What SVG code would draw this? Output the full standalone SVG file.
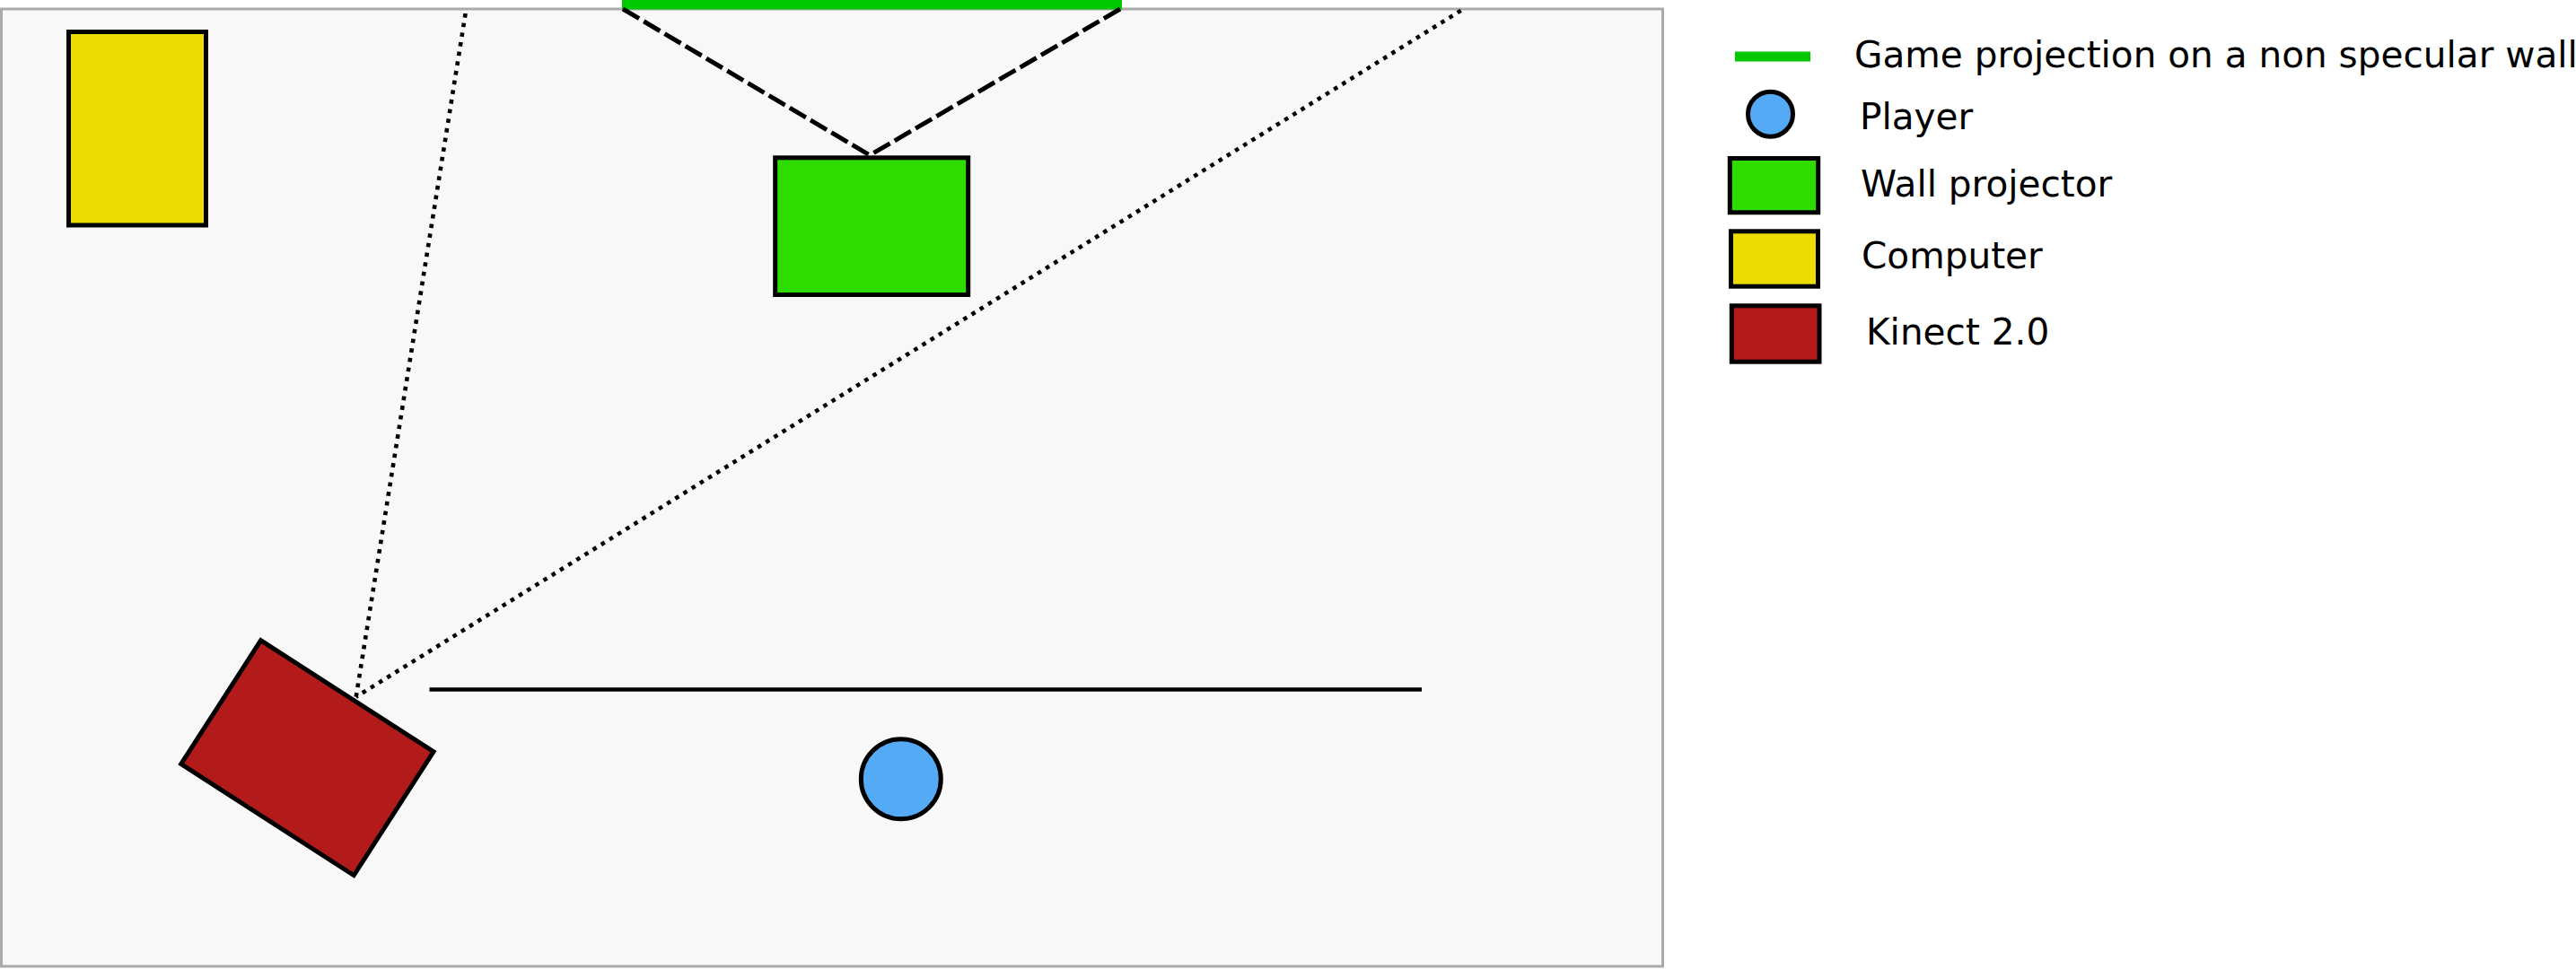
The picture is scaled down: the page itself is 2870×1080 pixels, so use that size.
<svg xmlns="http://www.w3.org/2000/svg" width="2870" height="1080" viewBox="0 0 2870 1080">
<style>
.box{stroke:#000;stroke-width:5}
.yellow{fill:#ecdc00}
.green{fill:#2edc00}
.red{fill:#b31b1b}
.blue{fill:#55aaf5}
.lbl{font-family:"DejaVu Sans",sans-serif;font-size:40.6px;fill:#000}
.dot{fill:none;stroke:#000;stroke-width:4.6;stroke-dasharray:4.6 6.2}
.dash{fill:none;stroke:#000;stroke-width:5;stroke-dasharray:21 6}
</style>
<rect x="0" y="0" width="2870" height="1080" fill="#fff"/>
<rect id="room" x="1.5" y="10" width="1851" height="1067" fill="#f8f8f8" stroke="#aaa" stroke-width="3"/>
<rect id="projection" x="693" y="0" width="557" height="10.5" fill="#00c800"/>
<g id="connectors">
<line class="dash" x1="694" y1="10" x2="969" y2="173"/>
<line class="dash" x1="1248" y1="10" x2="969" y2="173"/>
<line class="dot" x1="518.6" y1="15" x2="396.7" y2="776.7"/>
<line class="dot" x1="1627.7" y1="11.7" x2="396.7" y2="776.7"/>
<line x1="478.5" y1="768.5" x2="1584" y2="768.5" stroke="#000" stroke-width="4.5"/>
</g>
<g id="computer"><rect class="box yellow" x="76.5" y="35.5" width="153" height="215.5"/></g>
<g id="wall-projector"><rect class="box green" x="863.7" y="175.8" width="215" height="152.7"/></g>
<g id="kinect"><rect class="box red" x="-114.5" y="-82" width="229" height="164" transform="translate(342.4 844.7) rotate(32.8)"/></g>
<g id="player"><circle class="box blue" cx="1003.8" cy="868.3" r="44.5"/></g>
<g id="legend">
<g id="legend-projection"><rect x="1933" y="57.5" width="84" height="11" fill="#00c800"/><text class="lbl" x="2066" y="75">Game projection on a non specular wall</text></g>
<g id="legend-player"><circle class="box blue" cx="1972.5" cy="127.2" r="25"/><text class="lbl" x="2072" y="144">Player</text></g>
<g id="legend-projector"><rect class="box green" x="1927.3" y="176.5" width="98.4" height="60.3"/><text class="lbl" x="2073" y="219">Wall projector</text></g>
<g id="legend-computer"><rect class="box yellow" x="1928.5" y="257.8" width="97" height="61.4"/><text class="lbl" x="2074" y="299">Computer</text></g>
<g id="legend-kinect"><rect class="box red" x="1929.3" y="340.8" width="97.7" height="62.4"/><text class="lbl" x="2079" y="384">Kinect 2.0</text></g>
</g>
</svg>
